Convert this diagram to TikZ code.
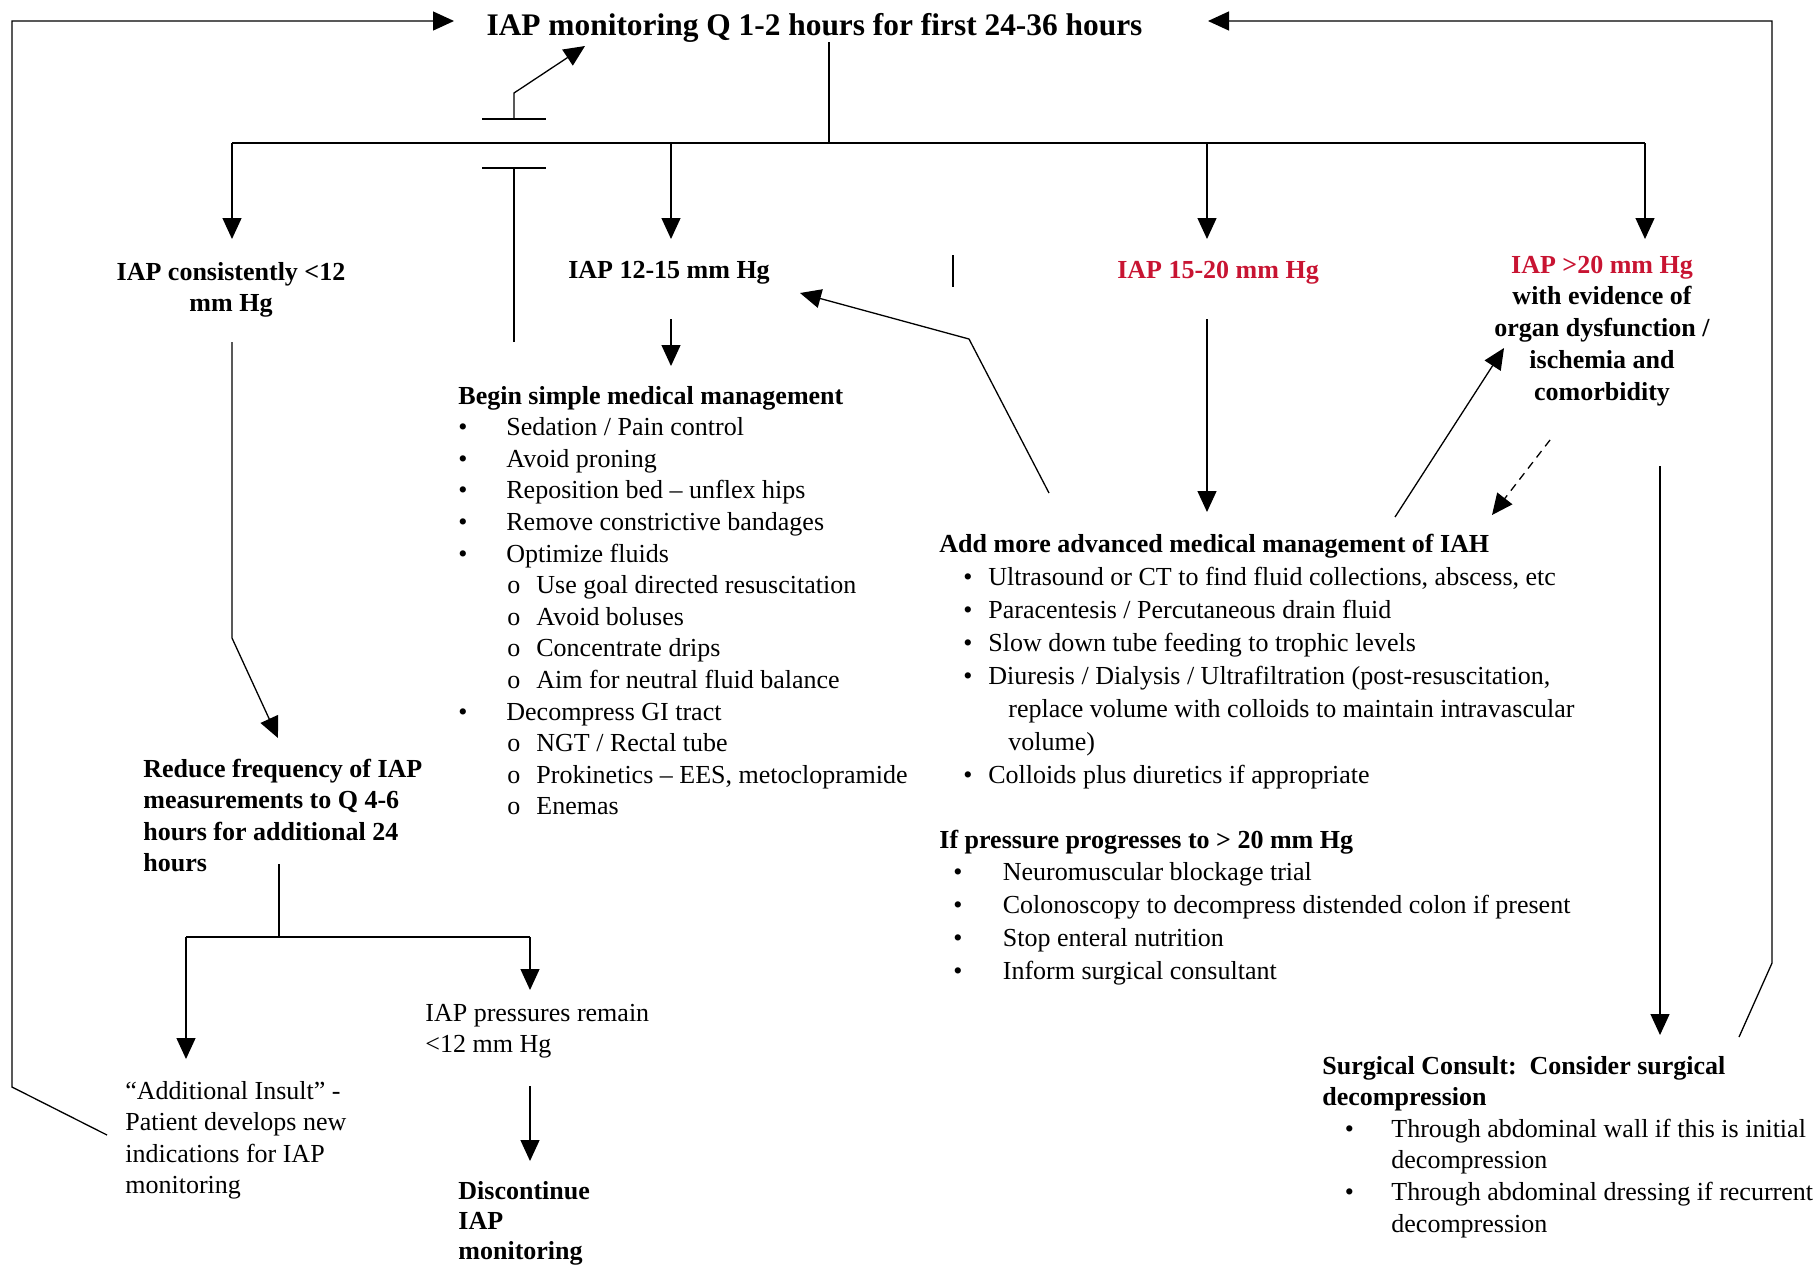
\documentclass[tikz,border=0pt]{standalone}
\usepackage{fontspec}
\setmainfont{Liberation Serif}
\usetikzlibrary{arrows.meta,positioning}

\definecolor{iapred}{RGB}{200,20,50}

\newcommand{\bitem}[3]{\hspace*{#1}\makebox[#2][l]{\textbullet}#3}
\newcommand{\oitem}[1]{\hspace*{24.5pt}\makebox[14.5pt][l]{o}#1}
\newcommand{\leftlines}[1]{\begin{tabular}[t]{@{}l@{}}#1\end{tabular}}
\newcommand{\midlines}[1]{\begin{tabular}[t]{@{}c@{}}#1\end{tabular}}

\begin{document}
\begin{tikzpicture}[x=0.5pt,y=-0.5pt,
  every node/.style={inner sep=0pt},
  txt/.style={anchor=base west,font=\fontsize{13}{15.8}\selectfont},
  hdr/.style={txt,font=\fontsize{13}{15.8}\selectfont\bfseries},
  rng/.style={anchor=base,font=\fontsize{13}{15.9}\selectfont\bfseries},
  headline/.style={anchor=base,font=\fontsize{15.7}{19}\selectfont\bfseries},
  wire/.style={line width=0.65pt},
  rail/.style={line width=0.9pt},
  flow/.style={wire,-{Triangle[length=10.5pt,width=9.5pt]}},
]
\useasboundingbox (0,0) rectangle (1818,1265);

% text blocks
\node[headline] (title) at (814.5,35) {IAP monitoring Q 1-2 hours for first 24-36 hours};

\node[rng] (lowiap) at (231,280) {\midlines{IAP consistently <12\\mm Hg}};
\node[rng] (mid) at (669,278) {IAP 12-15 mm Hg};
\node[rng,text=iapred] (high) at (1218,278) {IAP 15-20 mm Hg};
\node[rng] (severe) at (1602,273) {\midlines{\textcolor{iapred}{IAP >20 mm Hg}\\with evidence of\\organ dysfunction /\\ischemia and\\comorbidity}};

\node[txt] (simple) at (458,404) {\leftlines{\textbf{Begin simple medical management}\\
  \bitem{0pt}{24pt}{Sedation / Pain control}\\
  \bitem{0pt}{24pt}{Avoid proning}\\
  \bitem{0pt}{24pt}{Reposition bed – unflex hips}\\
  \bitem{0pt}{24pt}{Remove constrictive bandages}\\
  \bitem{0pt}{24pt}{Optimize fluids}\\
  \oitem{Use goal directed resuscitation}\\
  \oitem{Avoid boluses}\\
  \oitem{Concentrate drips}\\
  \oitem{Aim for neutral fluid balance}\\
  \bitem{0pt}{24pt}{Decompress GI tract}\\
  \oitem{NGT / Rectal tube}\\
  \oitem{Prokinetics – EES, metoclopramide}\\
  \oitem{Enemas}}};

\node[hdr] (reduce) at (143,777) {\leftlines{Reduce frequency of IAP\\measurements to Q 4-6\\hours for additional 24\\hours}};
\node[txt] (insult) at (125,1099) {\leftlines{“Additional Insult” -\\Patient develops new\\indications for IAP\\monitoring}};
\node[txt] (remain) at (425,1021) {\leftlines{IAP pressures remain\\<12 mm Hg}};
\node[hdr,font=\fontsize{13}{15.2}\selectfont\bfseries] (stop) at (458,1199) {\leftlines{Discontinue\\IAP\\monitoring}};

\node[txt,font=\fontsize{13}{16.5}\selectfont] (adv) at (939,552) {\leftlines{\textbf{Add more advanced medical management of IAH}\\
  \bitem{12pt}{12.5pt}{Ultrasound or CT to find fluid collections, abscess, etc}\\
  \bitem{12pt}{12.5pt}{Paracentesis / Percutaneous drain fluid}\\
  \bitem{12pt}{12.5pt}{Slow down tube feeding to trophic levels}\\
  \bitem{12pt}{12.5pt}{Diuresis / Dialysis / Ultrafiltration (post-resuscitation,}\\
  \hspace*{34.5pt}replace volume with colloids to maintain intravascular\\
  \hspace*{34.5pt}volume)\\
  \bitem{12pt}{12.5pt}{Colloids plus diuretics if appropriate}}};

\node[txt,font=\fontsize{13}{16.4}\selectfont] (prog) at (939,848) {\leftlines{\textbf{If pressure progresses to > 20 mm Hg}\\
  \bitem{7pt}{24.75pt}{Neuromuscular blockage trial}\\
  \bitem{7pt}{24.75pt}{Colonoscopy to decompress distended colon if present}\\
  \bitem{7pt}{24.75pt}{Stop enteral nutrition}\\
  \bitem{7pt}{24.75pt}{Inform surgical consultant}}};

\node[txt] (surg) at (1322,1074) {\leftlines{\textbf{Surgical Consult:~~Consider surgical}\\
  \textbf{decompression}\\
  \bitem{11.25pt}{23.25pt}{Through abdominal wall if this is initial}\\
  \hspace*{34.5pt}decompression\\
  \bitem{11.25pt}{23.25pt}{Through abdominal dressing if recurrent}\\
  \hspace*{34.5pt}decompression}};

% split under the title
\coordinate (split) at (829,143);
\coordinate (tipline) at (0,239);
\foreach \c/\x in {d1/232,d2/671,d3/1207,d4/1645}
  \coordinate (\c) at (\x,143);
\draw[wire] (title.south -| split) -- (split);
\draw[rail] (d1) -- (d4);
\foreach \c in {d1,d2,d3,d4}
  \draw[flow] (\c) -- (\c |- tipline);

% line hopping the rail back to the title
\coordinate (hopB) at (514,342);
\coordinate (hopL) at (514,168);
\coordinate (hopU) at (514,119);
\coordinate (hopK) at (514,93);
\coordinate (hopT) at (585,46);
\draw[wire] (hopB) -- (hopL);
\draw[wire] ([xshift=-16pt]hopL) -- ([xshift=16pt]hopL);
\draw[wire] ([xshift=-16pt]hopU) -- ([xshift=16pt]hopU);
\draw[flow] (hopU) -- (hopK) -- (hopT);

\draw[line width=1.4pt] (953,255) -- (953,287);

% left column
\coordinate (lowA) at (232,342);
\coordinate (lowK) at (232,638);
\coordinate (lowT) at (278,738);
\draw[flow] (lowA) -- (lowK) -- (lowT);

\coordinate (redA) at (279,864);
\coordinate (brL) at (186,937);
\coordinate (brR) at (530,937);
\coordinate (insT) at (186,1059);
\coordinate (remT) at (530,990);
\draw[wire] (redA) -- (redA |- brL);
\draw[rail] (brL) -- (brR);
\draw[flow] (brL) -- (insT);
\draw[flow] (brR) -- (remT);

\coordinate (remA) at (530,1086);
\coordinate (stopT) at (530,1161);
\draw[flow] (remA) -- (stopT);

% middle
\coordinate (midA) at (671,319);
\coordinate (midT) at (671,366);
\draw[flow] (midA) -- (midT);

\coordinate (highA) at (1207,319);
\coordinate (highT) at (1207,512);
\draw[flow] (highA) -- (highT);

\coordinate (backA) at (1049,493);
\coordinate (backK) at (969,339);
\coordinate (backT) at (800,293);
\draw[flow] (backA) -- (backK) -- (backT);

\coordinate (upA) at (1395,517);
\coordinate (upT) at (1504,348);
\draw[flow] (upA) -- (upT);

\coordinate (dnA) at (1550,440);
\coordinate (dnT) at (1492,515);
\draw[flow,dash pattern=on 4pt off 3pt] (dnA) -- (dnT);

\coordinate (surA) at (1660,466);
\coordinate (surT) at (1660,1035);
\draw[flow] (surA) -- (surT);

% loops back to the title
\coordinate (topline) at (0,21);
\coordinate (lloopA) at (107,1135);
\coordinate (lloopK) at (12,1087);
\coordinate (lloopT) at (454,21);
\draw[flow] (lloopA) -- (lloopK) -- (lloopK |- topline) -- (lloopT);

\coordinate (rloopA) at (1739,1037);
\coordinate (rloopK) at (1772,963);
\coordinate (rloopT) at (1208,21);
\draw[flow] (rloopA) -- (rloopK) -- (rloopK |- topline) -- (rloopT);

\end{tikzpicture}
\end{document}
